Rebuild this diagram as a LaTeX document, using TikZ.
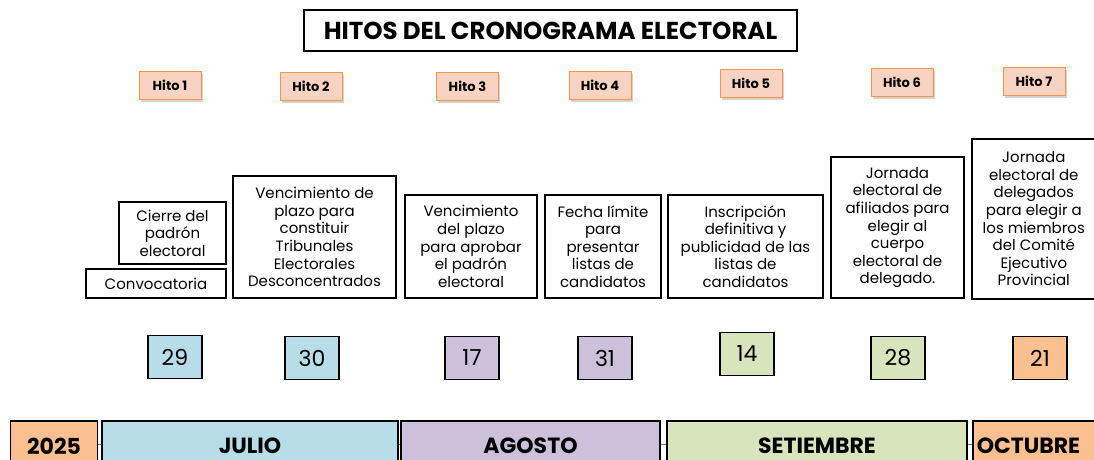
\documentclass[tikz,border=0pt]{standalone}
\usepackage{fontspec}
\setmainfont{Poppins}
\usetikzlibrary{shadows}
\definecolor{hitofill}{HTML}{F9D3C1}
\definecolor{hitodraw}{HTML}{F79646}
\definecolor{cblue}{HTML}{B7DDE8}
\definecolor{cpurple}{HTML}{CCC0DA}
\definecolor{cgreen}{HTML}{D8E4BC}
\definecolor{corange}{HTML}{FAC090}
\definecolor{lineblue}{HTML}{4F81BD}
\tikzset{
  box/.style={draw=black, line width=1.6pt, align=center, inner sep=1pt,
    font=\fontsize{15}{17.6}\selectfont},
  hito/.style={draw=hitodraw, fill=hitofill, line width=1pt, minimum width=62pt,
    minimum height=28pt, font=\fontsize{13}{14}\selectfont\bfseries,
    drop shadow={shadow xshift=1.5pt, shadow yshift=-3pt, opacity=0.35}},
  day/.style={draw=black, line width=1.6pt, minimum width=54pt, minimum height=43pt,
    font=\fontsize{22}{24}\selectfont},
  month/.style={draw=black, line width=1.6pt, font=\fontsize{22}{24}\selectfont\bfseries}
}
\begin{document}
\begin{tikzpicture}[x=1pt,y=-1pt]
\useasboundingbox (0,0) rectangle (1094,460);
\clip (0,0) rectangle (1094,460);
% title
\node[draw=black, line width=1.8pt, minimum width=493pt, minimum height=41pt,
  font=\fontsize{24.5}{26}\selectfont\bfseries] (title) at (550.5,30.5) {HITOS DEL CRONOGRAMA ELECTORAL};
% hitos
\node[hito] (h1) at (170,85) {Hito 1};
\node[hito] (h2) at (311,86) {Hito 2};
\node[hito] (h3) at (467.5,86) {Hito 3};
\node[hito] (h4) at (600,85) {Hito 4};
\node[hito] (h5) at (751,83) {Hito 5};
\node[hito] (h6) at (902,82) {Hito 6};
\node[hito] (h7) at (1034,81) {Hito 7};
% description boxes
\node[box, minimum width=140pt, minimum height=29pt] (d0) at (156,283.5) {Convocatoria};
\node[box, minimum width=107pt, minimum height=62pt] (d1) at (172.5,233) {Cierre del\\padrón\\electoral};
\node[box, minimum width=163pt, minimum height=122pt] (d2) at (314.5,237) {Vencimiento de\\plazo para\\constituir\\Tribunales\\Electorales\\Desconcentrados};
\node[box, minimum width=132pt, minimum height=103pt] (d3) at (471,246.5) {Vencimiento\\del plazo\\para aprobar\\el padrón\\electoral};
\node[box, minimum width=116pt, minimum height=103pt] (d4) at (603,246.5) {Fecha límite\\para\\presentar\\listas de\\candidatos};
\node[box, minimum width=155pt, minimum height=103pt] (d5) at (745.5,246.5) {Inscripción\\definitiva y\\publicidad de las\\listas de\\candidatos};
\node[box, minimum width=133pt, minimum height=141pt] (d6) at (897.5,227.5) {Jornada\\electoral de\\afiliados para\\elegir al\\cuerpo\\electoral de\\delegado.};
\node[box, minimum width=124pt, minimum height=160pt, anchor=north west] (d7) at (971,138) {Jornada\\electoral de\\delegados\\para elegir a\\los miembros\\del Comité\\Ejecutivo\\Provincial};
% days
\node[day, fill=cblue] (n29) at (175,357) {29};
\node[day, fill=cblue] (n30) at (312,358) {30};
\node[day, fill=cpurple] (n17) at (472,358) {17};
\node[day, fill=cpurple] (n31) at (605,358) {31};
\node[day, fill=cgreen] (n14) at (747,354) {14};
\node[day, fill=cgreen] (n28) at (898,358) {28};
\node[day, fill=corange] (n21) at (1040,358) {21};
% months
\draw[lineblue, line width=0.6pt] (97,444) -- (1094,444);
\node[month, fill=corange, minimum width=87pt, minimum height=50pt] (y2025) at (54,446) {2025};
\node[month, fill=cblue, minimum width=296pt, minimum height=50pt] (jul) at (250,446) {JULIO};
\node[month, fill=cpurple, minimum width=259pt, minimum height=50pt] (ago) at (530.5,446) {AGOSTO};
\node[month, fill=cgreen, minimum width=300pt, minimum height=50pt] (set) at (817,446) {SETIEMBRE};
\node[month, fill=corange, minimum width=140pt, minimum height=50pt, anchor=west, inner xsep=4pt, text width=132pt] (oct) at (972,446) {OCTUBRE};
\end{tikzpicture}
\end{document}
